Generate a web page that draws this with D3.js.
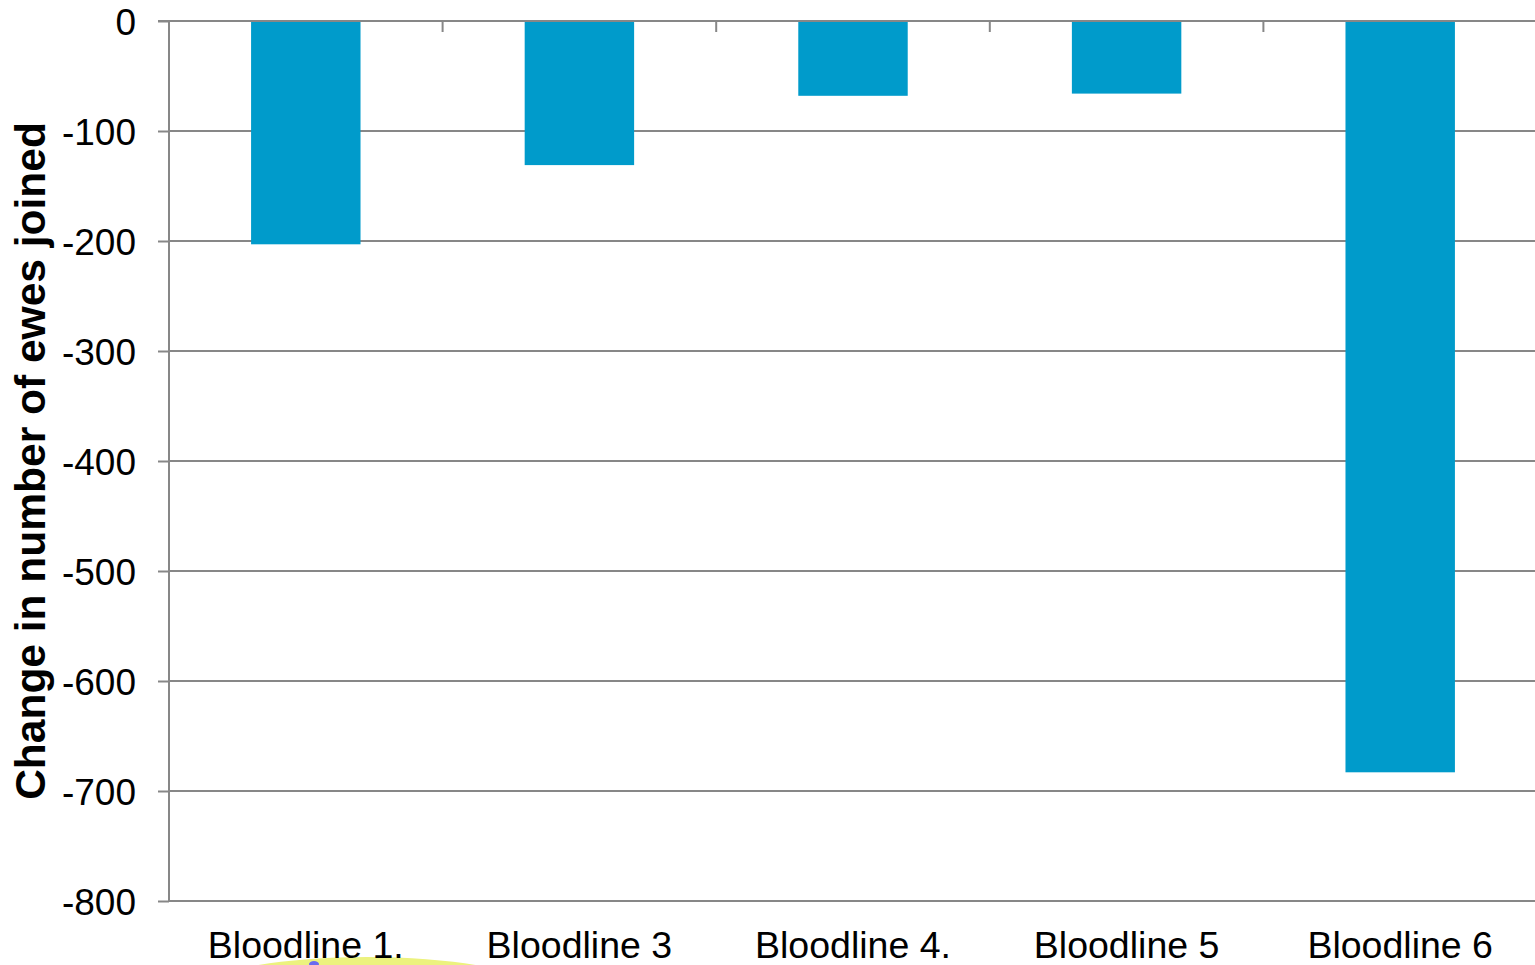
<!DOCTYPE html>
<html>
<head>
<meta charset="utf-8">
<script src="https://cdn.jsdelivr.net/npm/d3@7"></script>
<style>
  html, body { margin: 0; padding: 0; background: #fff; overflow: hidden; }
  svg { display: block; }
</style>
</head>
<body>
<svg id="chart" width="1535" height="965"></svg>
<script>
// Change in number of ewes joined, by bloodline
const categories = ["Bloodline 1.", "Bloodline 3", "Bloodline 4.", "Bloodline 5", "Bloodline 6"];
const values = [-203, -131, -68, -66, -683];
const yTicks = [0, -100, -200, -300, -400, -500, -600, -700, -800];
const yTitle = "Change in number of ewes joined";

const svg = d3.select("#chart");
const margin = { left: 169, right: -2, top: 21, bottom: 64 };
const W = 1535, H = 965;
const plotW = W - margin.left - margin.right;
const plotH = H - margin.top - margin.bottom;

const x = d3.scaleBand().domain(categories).range([0, plotW]).paddingInner(0.6).paddingOuter(0.3);
const xCat = d3.scaleBand().domain(categories).range([0, plotW]);
const y = d3.scaleLinear().domain([-800, 0]).range([plotH, 0]);

// faint highlight under the first label
svg.append("ellipse")
  .attr("cx", 367).attr("cy", 985).attr("rx", 155).attr("ry", 28)
  .attr("fill", "#ecf27e");
svg.append("ellipse")
  .attr("cx", 314).attr("cy", 964).attr("rx", 5).attr("ry", 3)
  .attr("fill", "#6a6af0");

const g = svg.append("g").attr("transform", `translate(${margin.left},${margin.top})`);
const gridColor = "#878787";

// horizontal gridlines (the -800 line doubles as the bottom border)
g.append("g").selectAll("line").data(yTicks.filter(d => d !== 0)).join("line")
  .attr("x1", 0).attr("x2", plotW)
  .attr("y1", d => y(d)).attr("y2", d => y(d))
  .attr("stroke", gridColor).attr("stroke-width", 2);

// bars hang down from zero
g.append("g").selectAll("rect").data(categories).join("rect")
  .attr("x", d => x(d))
  .attr("width", x.bandwidth())
  .attr("y", y(0))
  .attr("height", (d, i) => y(values[i]) - y(0))
  .attr("fill", "#009BCB");

// value axis on the left
const yAxis = d3.axisLeft(y).tickValues(yTicks).tickSize(11).tickPadding(22).tickFormat(d => String(d));
const ya = g.append("g").call(yAxis);
ya.select(".domain").attr("stroke", gridColor).attr("stroke-width", 2).attr("d", `M0,0V${plotH}`);
ya.selectAll(".tick line").attr("stroke", gridColor).attr("stroke-width", 2);
ya.selectAll(".tick text")
  .attr("font-family", "Liberation Sans, Arial, sans-serif")
  .attr("font-size", 37).attr("fill", "#000").attr("dy", "0.36em");

// category axis sits along zero, with ticks at band boundaries
const zeroLine = g.append("g").attr("transform", `translate(0,${y(0)})`);
zeroLine.append("line").attr("x1", -11).attr("x2", plotW)
  .attr("stroke", gridColor).attr("stroke-width", 2);
zeroLine.selectAll("line.bt").data(categories.slice(1)).join("line").attr("class", "bt")
  .attr("x1", d => xCat(d)).attr("x2", d => xCat(d))
  .attr("y1", 0).attr("y2", 11)
  .attr("stroke", gridColor).attr("stroke-width", 2);

// category labels below the plot
g.append("g").selectAll("text").data(categories).join("text")
  .attr("x", d => xCat(d) + xCat.bandwidth() / 2)
  .attr("y", plotH + 57)
  .attr("text-anchor", "middle")
  .attr("font-family", "Liberation Sans, Arial, sans-serif")
  .attr("font-size", 37.5).attr("fill", "#000")
  .text(d => d);

// value axis title
svg.append("text")
  .attr("transform", `translate(45,${margin.top + plotH / 2}) rotate(-90)`)
  .attr("text-anchor", "middle")
  .attr("font-family", "Liberation Sans, Arial, sans-serif")
  .attr("font-weight", "bold")
  .attr("font-size", 42.5).attr("fill", "#000")
  .text(yTitle);
</script>
</body>
</html>
